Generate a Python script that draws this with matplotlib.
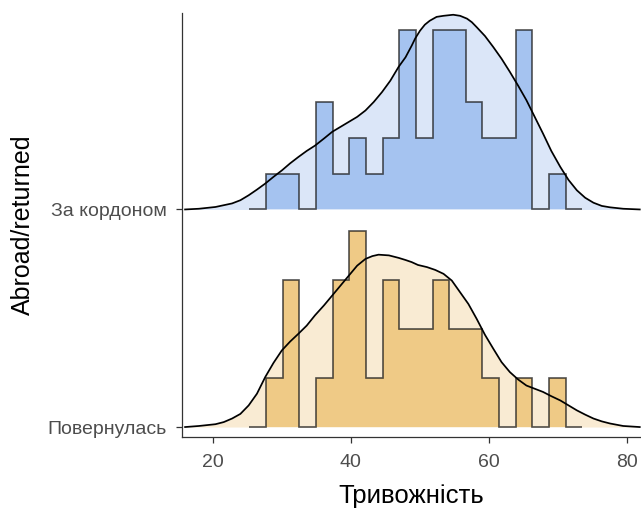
import matplotlib
matplotlib.use("Agg")
import matplotlib.pyplot as plt
import numpy as np

plt.rcParams['font.family'] = ['Liberation Sans', 'DejaVu Sans']

# groups (bottom -> top)
groups = ['Повернулась', 'За кордоном']

# histogram bins (padded with empty bins at both ends)
bin_lo = 25.3
bin_w = 2.41
counts_returned = [0, 1, 3, 0, 1, 3, 4, 1, 3, 2, 2, 3, 2, 2, 1, 0, 1, 0, 1, 0]
counts_abroad = [0, 1, 1, 0, 3, 1, 2, 1, 2, 5, 2, 5, 5, 3, 2, 2, 5, 0, 1, 0]

# density curves
dens_x_returned = [16.0, 18.0, 20.4, 21.6, 22.8, 24.0, 25.2, 26.4, 27.6, 28.8, 30.0, 31.2,
                   32.4, 33.6, 34.8, 36.1, 37.3, 38.5, 39.7, 40.9, 42.1, 43.1, 44.0, 45.5,
                   46.9, 47.9, 48.8, 49.7, 51.0, 52.2, 53.4, 54.6, 55.8, 57.0, 58.2, 59.4,
                   60.6, 61.8, 63.0, 64.2, 65.4, 66.6, 67.8, 69.0, 70.3, 71.5, 72.7, 73.9,
                   75.1, 76.3, 77.5, 79.4, 81.8]
dens_y_returned = [0.0, 0.0003, 0.0008, 0.0014, 0.0024, 0.0037, 0.0061, 0.0094, 0.0141, 0.0181,
                   0.0216, 0.0241, 0.0263, 0.0286, 0.0315, 0.0343, 0.0371, 0.0399, 0.0427,
                   0.0455, 0.0474, 0.0482, 0.0486, 0.0484, 0.0477, 0.0471, 0.0465, 0.0457,
                   0.0451, 0.0443, 0.0432, 0.0413, 0.0380, 0.0347, 0.0305, 0.0260, 0.0221,
                   0.0183, 0.0155, 0.0134, 0.0117, 0.0108, 0.0099, 0.0087, 0.0075, 0.0061,
                   0.0047, 0.0035, 0.0024, 0.0016, 0.0010, 0.0003, 0.0]
dens_x_abroad = [16.0, 18.0, 20.4, 22.8, 24.0, 25.2, 26.4, 27.6, 28.8, 30.0, 31.2, 32.4,
                 33.6, 34.8, 36.1, 37.3, 38.5, 39.7, 40.9, 42.1, 43.3, 44.5, 45.7, 46.9,
                 47.9, 48.8, 49.3, 50.0, 50.7, 51.4, 52.4, 53.4, 54.8, 55.8, 56.8, 57.5,
                 58.2, 59.4, 60.6, 61.8, 63.0, 64.2, 65.4, 66.6, 67.8, 69.0, 70.3, 71.5,
                 72.7, 73.9, 75.1, 76.3, 77.5, 79.4, 81.8]
dens_y_abroad = [0.0, 0.0002, 0.0007, 0.0017, 0.0026, 0.0040, 0.0056, 0.0073, 0.0092, 0.0110,
                 0.0130, 0.0148, 0.0165, 0.0180, 0.0200, 0.0219, 0.0233, 0.0247, 0.0261,
                 0.0279, 0.0303, 0.0331, 0.0363, 0.0402, 0.0429, 0.0462, 0.0482, 0.0504,
                 0.0521, 0.0532, 0.0543, 0.0546, 0.0549, 0.0546, 0.0538, 0.0528, 0.0514,
                 0.0489, 0.0458, 0.0425, 0.0388, 0.0349, 0.0308, 0.0261, 0.0214, 0.0165,
                 0.0120, 0.0083, 0.0054, 0.0033, 0.0019, 0.0010, 0.0006, 0.0002, 0.0]

hist_colors = ['#efca86', '#a5c3f0']
dens_colors = ['#f9ebd3', '#dbe6f8']

scale = 16.3  # ridge height scaling (y units per density unit)

fig = plt.figure(figsize=(6.41, 5.09), dpi=100)
ax = fig.add_axes([0.284, 0.1405, 0.716, 0.834])

ridges = [
    (counts_returned, dens_x_returned, dens_y_returned),
    (counts_abroad, dens_x_abroad, dens_y_abroad),
]

for i, (counts, dx, dy) in enumerate(ridges):
    base = i + 1
    counts = np.array(counts, dtype=float)
    edges = bin_lo + bin_w * np.arange(len(counts) + 1)
    n = counts.sum()
    heights = base + counts / (n * bin_w) * scale
    dens = base + np.array(dy) * scale

    ax.fill_between(dx, base, dens, color=dens_colors[i], lw=0, zorder=1 + i * 4)
    ax.stairs(heights, edges, baseline=base, fill=True, color=hist_colors[i],
              lw=0, zorder=2 + i * 4)
    ax.stairs(heights, edges, baseline=base, fill=False, color='#1a1a1a',
              alpha=0.75, lw=1.2, zorder=3 + i * 4)
    ax.plot(dx, dens, color='black', lw=1.25, zorder=4 + i * 4,
            solid_joinstyle='round')

ax.set_xlim(15.56, 81.98)
ax.set_ylim(0.952, 2.903)
ax.set_xticks([20, 40, 60, 80])
ax.set_yticks([1, 2])
ax.set_yticklabels(groups)

for s in ['top', 'right']:
    ax.spines[s].set_visible(False)
for s in ['left', 'bottom']:
    ax.spines[s].set_color('#333333')
    ax.spines[s].set_linewidth(0.9)

ax.tick_params(axis='both', colors='#333333', labelcolor='#4d4d4d', labelsize=14,
               length=4.5, width=0.9)
ax.tick_params(axis='y', pad=6.5)
ax.tick_params(axis='x', pad=7.5)

ax.set_xlabel('Тривожність', fontsize=18.5, labelpad=9)
ax.set_ylabel('Abroad/returned', fontsize=18, labelpad=9)

fig.savefig('out.png', dpi=100)
